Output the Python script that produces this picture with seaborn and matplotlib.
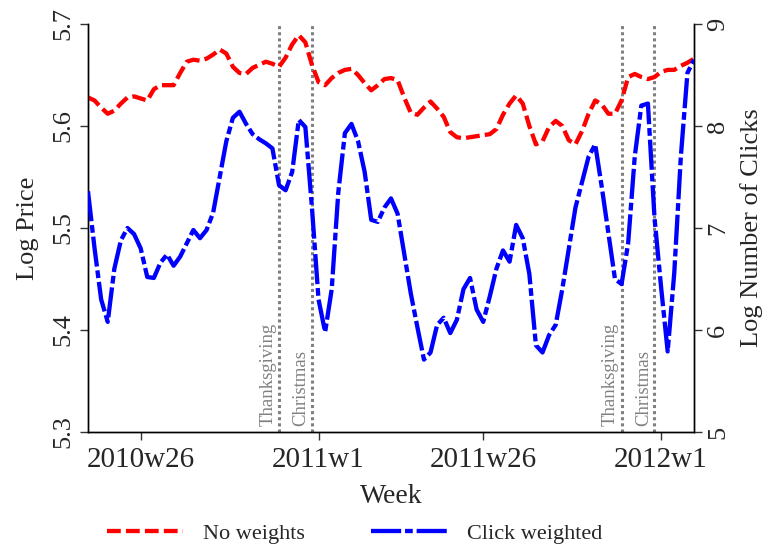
import numpy as np
import pandas as pd
import matplotlib
matplotlib.use("Agg")
import matplotlib.pyplot as plt
import seaborn as sns

# weekly index: 0 = 2010w1 (52 weeks per year, Stata style)
weeks = list(range(17, 110))

log_price = [
    5.628, 5.625, 5.618, 5.612, 5.615, 5.622, 5.628, 5.629, 5.627, 5.625,
    5.636, 5.640, 5.640, 5.640, 5.652, 5.663, 5.665, 5.664, 5.666, 5.670,
    5.675, 5.671, 5.658, 5.652, 5.651, 5.657, 5.660, 5.663, 5.661, 5.658,
    5.667, 5.680, 5.689, 5.682, 5.660, 5.643, 5.640, 5.647, 5.652, 5.655,
    5.656, 5.650, 5.642, 5.635, 5.640, 5.646, 5.647, 5.645, 5.628, 5.613,
    5.611, 5.618, 5.624, 5.617, 5.609, 5.594, 5.589, 5.588, 5.589, 5.590,
    5.591, 5.592, 5.597, 5.611, 5.622, 5.630, 5.622, 5.600, 5.582, 5.585,
    5.599, 5.605, 5.600, 5.586, 5.582, 5.595, 5.612, 5.625, 5.621, 5.612,
    5.612, 5.625, 5.648, 5.651, 5.648, 5.646, 5.648, 5.653, 5.655, 5.655,
    5.659, 5.662, 5.666,
]

log_clicks = [
    7.36, 6.80, 6.30, 6.08, 6.60, 6.88, 7.00, 6.94, 6.80, 6.52,
    6.51, 6.66, 6.74, 6.63, 6.72, 6.85, 6.98, 6.90, 6.98, 7.15,
    7.50, 7.85, 8.08, 8.14, 8.02, 7.92, 7.87, 7.83, 7.78, 7.42,
    7.37, 7.55, 8.06, 7.99, 7.20, 6.30, 5.98, 6.40, 7.35, 7.93,
    8.02, 7.85, 7.55, 7.08, 7.06, 7.20, 7.29, 7.14, 6.75, 6.36,
    6.03, 5.71, 5.78, 6.05, 6.12, 5.97, 6.10, 6.40, 6.51, 6.20,
    6.08, 6.33, 6.60, 6.78, 6.67, 7.03, 6.90, 6.55, 5.85, 5.78,
    5.95, 6.05, 6.40, 6.80, 7.20, 7.45, 7.70, 7.82, 7.40, 6.95,
    6.50, 6.45, 6.85, 7.70, 8.20, 8.22, 7.10, 6.42, 5.79, 6.56,
    7.70, 8.52, 8.65,
]

tick_pos = [25, 52, 77, 104]
tick_labels = ["2010w26", "2011w1", "2011w26", "2012w1"]

holiday_weeks = [46, 51, 98, 103]
holiday_names = ["Thanksgiving", "Christmas", "Thanksgiving", "Christmas"]

df = pd.DataFrame({"week": weeks, "price": log_price, "clicks": log_clicks})

sns.set_style("ticks")
plt.rcParams["font.family"] = ["Liberation Serif", "DejaVu Serif"]

fig = plt.figure(figsize=(7.63, 5.45), dpi=100)
ax = fig.add_axes([0.1153, 0.2073, 0.7943, 0.7487])
ax2 = ax.twinx()

for w in holiday_weeks:
    ax.axvline(w, color="gray", linestyle=(0, (1, 1)), lw=2.2, zorder=1)
for w, name in zip(holiday_weeks, holiday_names):
    ax.text(w - 0.4, 5.306, name, rotation=90, ha="right", va="bottom",
            color="gray", fontsize=13.5)

sns.lineplot(data=df, x="week", y="price", ax=ax, color="red", lw=3.1,
             linestyle=(0, (3.2, 1.2)), legend=False, zorder=3)
sns.lineplot(data=df, x="week", y="clicks", ax=ax2, color="blue", lw=3.1,
             linestyle=(0, (7, 0.9, 1.8, 0.9)), legend=False, zorder=3)

ax.set_xlim(17, 109)
ax.set_ylim(5.3, 5.7)
ax2.set_ylim(5, 9)
ax.set_yticks([5.3, 5.4, 5.5, 5.6, 5.7])
ax.set_yticklabels(["5.3", "5.4", "5.5", "5.6", "5.7"], rotation=90, va="center")
ax2.set_yticks([5, 6, 7, 8, 9])
ax2.set_yticklabels(["5", "6", "7", "8", "9"], rotation=90, va="center")
ax.set_xticks(tick_pos)
ax.set_xticklabels(tick_labels)

for a in (ax, ax2):
    a.tick_params(axis="y", labelsize=19, length=6, width=1, color="#333333")
    a.spines["top"].set_visible(False)
    for s in ("left", "right", "bottom"):
        a.spines[s].set_linewidth(1)
        a.spines[s].set_color("black")
ax.tick_params(axis="x", labelsize=21, length=6, width=1, color="#333333", pad=5)

ax.set_xlabel("Week", fontsize=20, labelpad=8)
ax.set_ylabel("Log Price", fontsize=19, labelpad=10)
ax2.set_ylabel("Log Number of Clicks", fontsize=19, labelpad=8)

handles = [ax.lines[-1], ax2.lines[-1]]
fig.legend(handles, ["No weights", "Click weighted"], loc="lower center",
           bbox_to_anchor=(0.465, -0.035), ncol=2, frameon=False, fontsize=16,
           handlelength=3.4, handletextpad=0.9, columnspacing=3.0)

fig.savefig("out.png", dpi=100)
